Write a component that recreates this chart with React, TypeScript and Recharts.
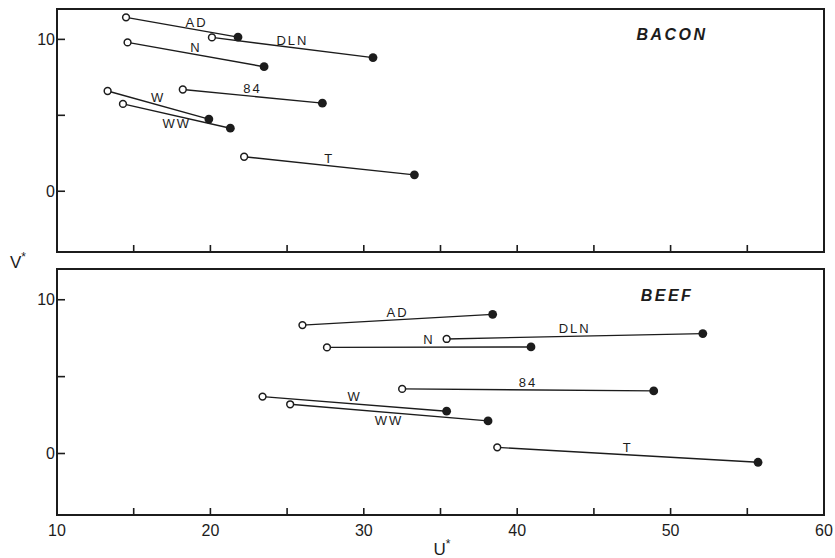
import { ScatterChart, Scatter, XAxis, YAxis, ReferenceArea, ReferenceDot } from "recharts";

// product codes, same order for both panels
const labels = ["AD", "DLN", "N", "84", "W", "WW", "T"];

// BACON: open circle (start) -> filled circle (end)
const baconU0 = [14.5, 20.1, 14.6, 18.2, 13.3, 14.3, 22.2];
const baconV0 = [11.45, 10.13, 9.8, 6.7, 6.6, 5.75, 2.27];
const baconU1 = [21.8, 30.6, 23.5, 27.3, 19.9, 21.3, 33.3];
const baconV1 = [10.15, 8.8, 8.2, 5.8, 4.75, 4.15, 1.08];

// BEEF
const beefU0 = [26.0, 35.4, 27.6, 32.5, 23.4, 25.2, 38.7];
const beefV0 = [8.35, 7.45, 6.9, 4.2, 3.7, 3.2, 0.4];
const beefU1 = [38.4, 52.1, 40.9, 48.9, 35.4, 38.1, 55.7];
const beefV1 = [9.05, 7.8, 6.93, 4.07, 2.75, 2.12, -0.57];

const xTicks = [10, 15, 20, 25, 30, 35, 40, 45, 50, 55, 60];
const yTicks = [0, 5, 10];
const yTickLabels = [0, 10];
const xTickLabels = [10, 20, 30, 40, 50, 60];

const INK = "#1c1c1c";
const FONT = "'Liberation Sans', Arial, sans-serif";

type Pt = { u: number; v: number; open: boolean };
type Seg = { name: string; points: Pt[] };

function buildSegs(u0: number[], v0: number[], u1: number[], v1: number[]): Seg[] {
  return labels.map((name, i) => ({
    name,
    points: [
      { u: u0[i], v: v0[i], open: true },
      { u: u1[i], v: v1[i], open: false },
    ],
  }));
}

const bacon = buildSegs(baconU0, baconV0, baconU1, baconV1);
const beef = buildSegs(beefU0, beefV0, beefU1, beefV1);

const renderPoint = (props: any) => {
  const { cx, cy, payload } = props;
  if (payload.open) {
    return <circle cx={cx} cy={cy} r={3.4} fill="#fff" stroke={INK} strokeWidth={1.5} />;
  }
  return <circle cx={cx} cy={cy} r={4.4} fill={INK} />;
};

interface PanelProps {
  segs: Seg[];
  height: number;
  bottom: number;
  showX: boolean;
  labelAt?: Record<string, number>;
}

function Panel({ segs, height, bottom, showX, labelAt = {} }: PanelProps) {
  // axes get 1px so they still render; ticks point inward (negative tickSize)
  return (
    <ScatterChart
      width={835}
      height={height}
      margin={{ top: 9, right: 11, bottom: bottom - 1, left: 56 }}
      style={{ overflow: "visible" }}
    >
      <XAxis
        type="number"
        dataKey="u"
        domain={[10, 60]}
        ticks={xTicks}
        height={1}
        interval={0}
        axisLine={false}
        tickSize={-7}
        tickMargin={17}
        tickLine={{ stroke: INK, strokeWidth: 1.6 }}
        tick={{ fill: INK, fontSize: 16, fontFamily: FONT }}
        tickFormatter={(v: number) => (showX && xTickLabels.includes(v) ? String(v) : "")}
        allowDataOverflow
      />
      <YAxis
        type="number"
        dataKey="v"
        domain={[-4, 12]}
        ticks={yTicks}
        width={1}
        interval={0}
        axisLine={false}
        tickSize={-8}
        tickMargin={10}
        tickLine={{ stroke: INK, strokeWidth: 1.6 }}
        tick={{ fill: INK, fontSize: 16, fontFamily: FONT }}
        tickFormatter={(v: number) => (yTickLabels.includes(v) ? String(v) : "")}
        allowDataOverflow
      />
      <ReferenceArea
        x1={10}
        x2={60}
        y1={-4}
        y2={12}
        fill="none"
        stroke={INK}
        strokeWidth={2}
        ifOverflow="visible"
      />
      {segs.map((s) => (
        <Scatter
          key={s.name}
          data={s.points}
          line={{ stroke: INK, strokeWidth: 1.4 }}
          lineType="joint"
          shape={renderPoint}
          isAnimationActive={false}
        />
      ))}
      {segs.map((s) => {
        const t = labelAt[s.name] ?? 0.5;
        const [a, b] = s.points;
        const below = s.name === "WW";
        return (
          <ReferenceDot
            key={"lbl-" + s.name}
            x={a.u + (b.u - a.u) * t}
            y={a.v + (b.v - a.v) * t}
            r={0}
            fill="none"
            stroke="none"
            label={{
              value: s.name,
              position: below ? "bottom" : "top",
              offset: 3,
              fill: INK,
              fontSize: 13,
              fontFamily: FONT,
              letterSpacing: 2,
            }}
          />
        );
      })}
    </ScatterChart>
  );
}

const titleStyle: React.CSSProperties = {
  position: "absolute",
  transform: "translate(-50%, -50%)",
  fontFamily: FONT,
  fontWeight: "bold",
  fontStyle: "italic",
  fontSize: 16,
  letterSpacing: 2.5,
  color: INK,
  lineHeight: 1,
};

const axisTitle: React.CSSProperties = {
  position: "absolute",
  transform: "translate(-50%, -50%)",
  fontFamily: FONT,
  fontSize: 17,
  color: INK,
  lineHeight: 1,
};

export default function App() {
  return (
    <div style={{ position: "relative", width: 835, height: 558, background: "#fff", overflow: "hidden" }}>
      <style>{"html, body { margin: 0; padding: 0; overflow: hidden; }"}</style>
      <div style={{ position: "absolute", left: 0, top: 0 }}>
        <Panel segs={bacon} height={260} bottom={8} showX={false} labelAt={{ AD: 0.63 }} />
      </div>
      <div style={{ position: "absolute", left: 0, top: 260 }}>
        <Panel segs={beef} height={298} bottom={43} showX={true} />
      </div>
      <div style={{ ...titleStyle, left: 672, top: 35 }}>BACON</div>
      <div style={{ ...titleStyle, left: 667, top: 296 }}>BEEF</div>
      <div style={{ ...axisTitle, left: 18, top: 261 }}>
        V<span style={{ fontSize: 12, verticalAlign: "super" }}>*</span>
      </div>
      <div style={{ ...axisTitle, left: 442, top: 548 }}>
        U<span style={{ fontSize: 12, verticalAlign: "super" }}>*</span>
      </div>
    </div>
  );
}
